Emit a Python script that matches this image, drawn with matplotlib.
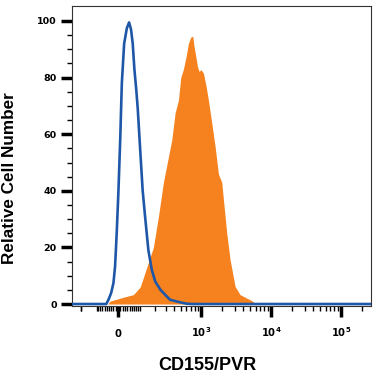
import numpy as np
import matplotlib
matplotlib.use("Agg")
import matplotlib.pyplot as plt

# fluorescence values (CD155/PVR channel) and relative cell number
iso_x = [-282, -52, -42, -30, -20, -13, -6, 1, 9, 16, 26, 38, 48, 57, 65, 73,
         82, 90, 103, 117, 131, 152, 176, 201, 246, 291, 348, 491, 615, 769, 267000]
iso_y = [0, 0, 1.5, 3.9, 7.4, 13.3, 25, 39, 58, 78, 92, 97.5, 99.5, 97, 92, 83,
         76, 69, 54.5, 40, 31, 19, 12, 8, 5, 3.3, 1.5, 0.6, 0.1, 0, 0]

pvr_x = [-45, -35, 23, 68, 103, 142, 187, 228, 274, 328, 369, 414, 464, 502,
         550, 602, 650, 703, 752, 786, 832, 879, 929, 992, 1072, 1171, 1265,
         1413, 1577, 1760, 1965, 2123, 2319, 2586, 3050, 3595, 4475, 5280, 5890, 6220]
pvr_y = [0, 1, 2.4, 3.3, 6, 13, 20, 31, 43, 52, 58, 67.5, 72, 80,
         83, 87.5, 92, 94.3, 94.6, 91, 87.5, 84, 82.2, 82.8, 81.6, 77, 72,
         64, 55.7, 46, 43, 34.5, 25, 15.7, 6.2, 3.3, 2.1, 1.2, 0.2, 0]

xticks_major = [0, 1e3, 1e4, 1e5]
xtick_labels = ["0", r"$\mathbf{10^{3}}$", r"$\mathbf{10^{4}}$", r"$\mathbf{10^{5}}$"]
yticks_major = [0, 20, 40, 60, 80, 100]

orange = "#F5821F"
blue = "#1F57A8"

W = 130.0
def fwd(x):
    return np.arcsinh(np.asarray(x) / W) / np.log(10)
def inv(y):
    return W * np.sinh(np.asarray(y) * np.log(10))

minor = []
for dec in [10, 100]:
    for k in range(1, 10):
        minor += [-k * dec, k * dec]
minor += [-200]
for dec in [1e3, 1e4, 1e5]:
    for k in range(2, 10):
        minor.append(k * dec)
minor = [m for m in minor if -282 < m < 267000 and m not in xticks_major]

fig = plt.figure(figsize=(3.75, 3.75), dpi=100)
ax = fig.add_axes([72 / 375, 69 / 375, 299 / 375, 300 / 375])
ax.set_xscale("function", functions=(fwd, inv))

ax.fill_between(pvr_x, pvr_y, 0, color=orange, lw=0, zorder=2)
ax.plot(iso_x, iso_y, color=blue, lw=1.9, zorder=3, solid_joinstyle="round")

ax.set_xlim(-282, 267000)
ax.set_ylim(-0.7, 105.3)

ax.set_xticks(xticks_major)
ax.set_xticklabels(xtick_labels)
ax.set_xticks(minor, minor=True)
ax.set_yticks(yticks_major)
ax.set_yticks(np.arange(0, 105, 5), minor=True)

ax.tick_params(axis="both", which="major", direction="out", length=8, width=2.5,
               color="black", labelsize=6.8)
ax.tick_params(axis="both", which="minor", direction="out", length=3.5, width=1,
               color="black")
ax.tick_params(axis="x", which="major", pad=14, labelsize=7.2)
ax.tick_params(axis="y", which="major", pad=3)
for lab in ax.get_yticklabels() + ax.get_xticklabels():
    lab.set_fontweight("bold")
for lab in ax.get_xticklabels():
    lab.set_va("baseline")

for s in ax.spines.values():
    s.set_linewidth(0.8)
    s.set_color("#333333")

fig.text(207 / 375, 1 - 365 / 375, "CD155/PVR", ha="center", va="center",
         fontsize=13, fontweight="bold", family="Liberation Sans")
fig.text(10 / 375, 1 - 178 / 375, "Relative Cell Number", ha="center", va="center",
         rotation=90, fontsize=12.3, fontweight="bold", family="Liberation Sans")

fig.savefig("out.png", dpi=100)
